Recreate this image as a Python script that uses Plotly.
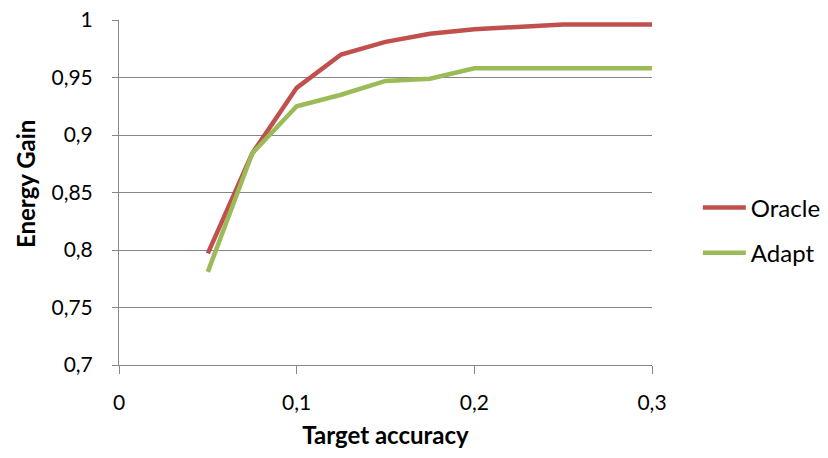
import plotly.graph_objects as go

# Target accuracy levels (x) and energy gain for each policy
target_accuracy = [0.05, 0.075, 0.1, 0.125, 0.15, 0.175, 0.2, 0.25, 0.3]
oracle_gain = [0.797, 0.884, 0.941, 0.970, 0.981, 0.988, 0.992, 0.996, 0.996]
adapt_gain = [0.781, 0.884, 0.925, 0.935, 0.947, 0.949, 0.958, 0.958, 0.958]

y_tick_vals = [0.7, 0.75, 0.8, 0.85, 0.9, 0.95, 1.0]
y_tick_text = ["0,7", "0,75", "0,8", "0,85", "0,9", "0,95", "1"]
x_tick_vals = [0, 0.1, 0.2, 0.3]
x_tick_text = ["0", "0,1", "0,2", "0,3"]

FONT = "Lato"
GRID = "#868686"

fig = go.Figure()
fig.add_trace(go.Scatter(
    x=target_accuracy, y=oracle_gain, mode="lines", name="Oracle",
    line=dict(color="#C0504D", width=4.5), legendgroup="o",
))
fig.add_trace(go.Scatter(
    x=target_accuracy, y=adapt_gain, mode="lines", name="Adapt",
    line=dict(color="#9BBB59", width=4.5), legendgroup="a",
))

fig.update_layout(
    width=828, height=458,
    margin=dict(l=119, r=176, t=20, b=93, autoexpand=False),
    paper_bgcolor="white", plot_bgcolor="white",
    font=dict(family=FONT, size=21, color="black"),
    legend=dict(
        x=1.086, y=0.39, xanchor="left", yanchor="middle",
        font=dict(family=FONT, size=24, color="black"),
        tracegroupgap=11, itemwidth=43, traceorder="grouped",
    ),
)
fig.update_xaxes(
    range=[0, 0.3], tickvals=x_tick_vals, ticktext=x_tick_text,
    showgrid=False, zeroline=False, automargin=False,
    showline=True, linecolor=GRID, linewidth=1,
    ticks="outside", ticklen=8, tickcolor=GRID,
    tickfont=dict(family=FONT, size=21), ticklabelstandoff=11,
    title=dict(text="<b>Target accuracy</b>", font=dict(family=FONT, size=24), standoff=13),
)
fig.update_yaxes(
    range=[0.7, 1.0], tickvals=y_tick_vals, ticktext=y_tick_text,
    showgrid=True, gridcolor=GRID, gridwidth=1, zeroline=False, automargin=False,
    showline=True, linecolor=GRID, linewidth=1,
    ticks="outside", ticklen=6, tickcolor=GRID,
    tickfont=dict(family=FONT, size=21), ticklabelstandoff=15,
)

# Vertical axis title placed to the left of the tick labels
fig.add_annotation(
    text="<b>Energy Gain</b>", textangle=-90,
    xref="paper", yref="paper", x=-0.1754, y=0.523,
    xanchor="center", yanchor="middle", showarrow=False,
    font=dict(family=FONT, size=24, color="black"),
)

fig.write_html("out.html")
